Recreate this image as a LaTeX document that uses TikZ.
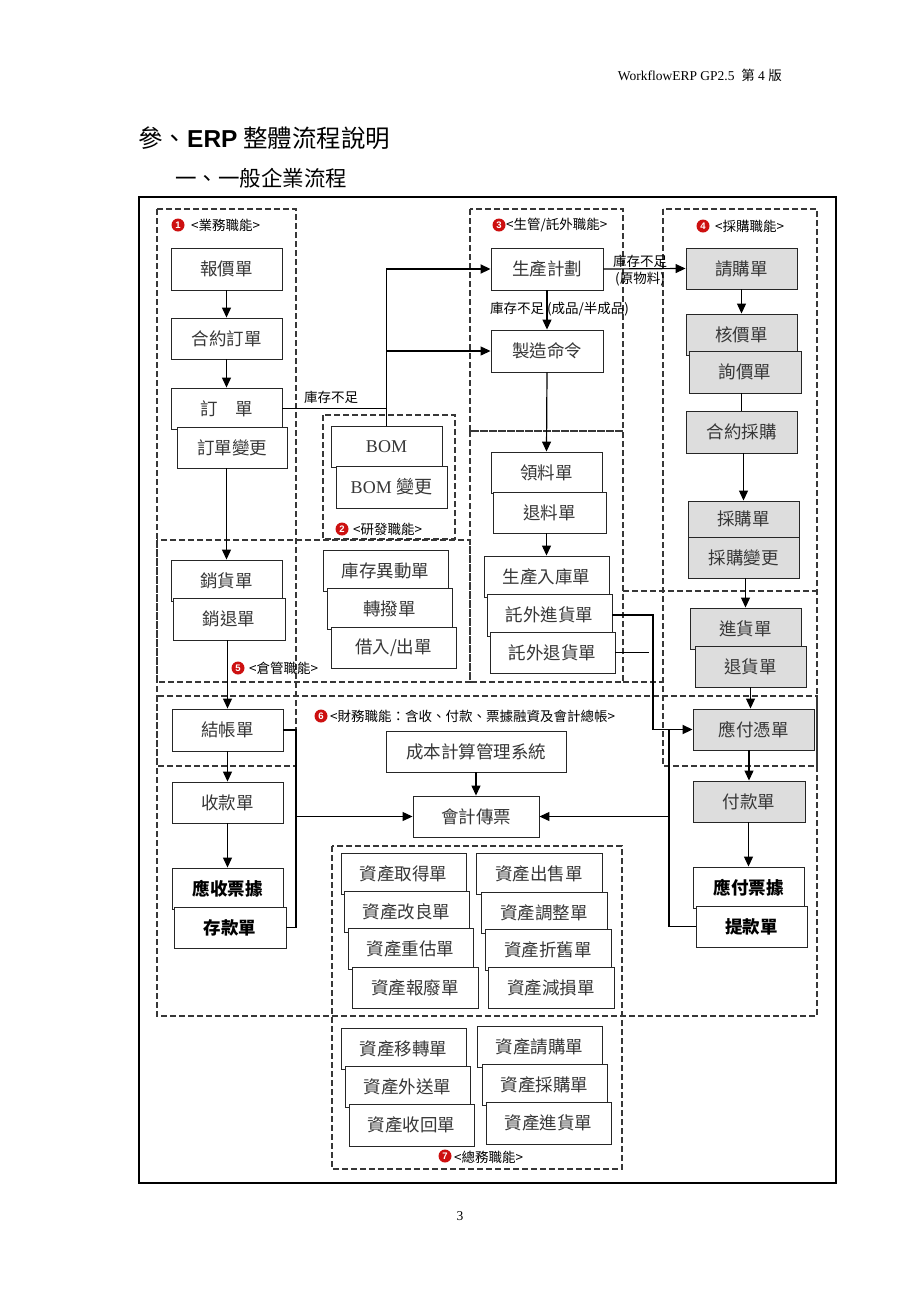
\documentclass[tikz,border=0pt]{standalone}
\usepackage{fontspec}
\setmainfont{Liberation Serif}
\newfontfamily\cjk{Noto Sans CJK TC}
\newfontfamily\arialf{Liberation Sans}
\usetikzlibrary{arrows.meta}
\definecolor{boxgray}{RGB}{221,221,221}
\definecolor{dashc}{RGB}{55,55,55}
\definecolor{txtc}{RGB}{55,55,55}
\definecolor{numred}{RGB}{205,16,16}
\begin{document}
\begin{tikzpicture}[x=1pt,y=-1pt,
 box/.style={draw=black!85, line width=0.9pt, fill=white, inner sep=0pt, text=txtc, font=\cjk\fontsize{17.5}{20}\selectfont},
 gbox/.style={box, fill=boxgray},
 bbox/.style={box, text=black, font=\cjk\bfseries\fontsize{17.5}{20}\selectfont},
 region/.style={draw=dashc, line width=1.2pt, dash pattern=on 6pt off 3pt},
 conn/.style={draw=black, line width=1.2pt},
 arr/.style={conn, -{Triangle[length=10pt,width=9pt]}},
 tarr/.style={arr, line width=1.8pt},
 lbl/.style={inner sep=0pt, font=\cjk\fontsize{13.5}{15}\selectfont, text=black},
 numc/.style={circle, fill=numred, text=white, inner sep=0pt, minimum size=13pt, font=\arialf\bfseries\fontsize{9.5}{9.5}\selectfont},
]
\useasboundingbox[fill=white] (0,0) rectangle (920,1302);

% header / titles
\node[anchor=base east, inner sep=0pt, font=\fontsize{13.5}{16}\selectfont] (hdr) at (782,80) {WorkflowERP GP2.5\ \ {\cjk 第} 4 {\cjk 版}};
\node[anchor=base west, inner sep=0pt, font=\cjk\fontsize{24.5}{28}\selectfont] (title) at (138,147) {參、{\arialf\bfseries ERP} 整體流程說明};
\node[anchor=base west, inner sep=0pt, font=\cjk\fontsize{21.5}{24}\selectfont] (sub1) at (175,186) {一、一般企業流程};
\node[inner sep=0pt, font=\fontsize{13.5}{16}\selectfont] (pg) at (460,1216) {3};

% outer frame
\draw[line width=1.2pt] (139,197) rectangle (836,1183);

% dashed regions
\draw[region] (157,209) rectangle (296,766);
\draw[region] (470,209) rectangle (623,431);
\draw[region] (470,431) rectangle (623,682);
\draw[region] (663,209) rectangle (817,766);
\draw[region] (323,415) rectangle (455,539);
\draw[region] (157,540) rectangle (470,682);
\draw[region] (157,696) rectangle (817,1016);
\draw[region] (332,846) rectangle (622,1169);
\draw[region] (623,591) -- (817,591);
\draw[region] (623,682) -- (663,682);

% region labels
\node[numc] (n1) at (178,225) {1};
\node[lbl, anchor=west] (l1) at (191,225) {<業務職能>};
\node[numc] (n3) at (499,225) {3};
\node[lbl, anchor=west] (l3) at (506,225) {<生管/託外職能>};
\node[numc] (n4) at (703,226) {4};
\node[lbl, anchor=west] (l4) at (715,226) {<採購職能>};
\node[numc] (n2) at (342,529) {2};
\node[lbl, anchor=west] (l2) at (353,529) {<研發職能>};
\node[numc] (n5) at (238,668) {5};
\node[lbl, anchor=west] (l5) at (249,668) {<倉管職能>};
\node[numc] (n6) at (321,716) {6};
\node[lbl, anchor=west] (l6) at (330,716) {<財務職能：含收、付款、票據融資及會計總帳>};
\node[numc] (n7) at (445,1156) {7};
\node[lbl, anchor=west] (l7) at (454,1157) {<總務職能>};

% sales column
\node[box, minimum width=111pt, minimum height=42pt] (q) at (226.5,269) {報價單};
\node[box, minimum width=111pt, minimum height=41pt] (co) at (226.5,338.5) {合約訂單};
\node[box, minimum width=111pt, minimum height=41pt] (ord) at (226.5,408.5) {訂　單};
\node[box, minimum width=110pt, minimum height=41pt] (ordc) at (232,447.5) {訂單變更};
\node[box, minimum width=111pt, minimum height=41pt] (sale) at (226.5,580.5) {銷貨單};
\node[box, minimum width=112pt, minimum height=42pt] (sret) at (229,619) {銷退單};
\node[box, minimum width=111pt, minimum height=42pt] (close) at (227.5,730) {結帳單};
\node[box, minimum width=111pt, minimum height=41pt] (rec) at (227.5,802.5) {收款單};
\node[bbox, minimum width=111pt, minimum height=41pt] (nr) at (227.5,888.5) {應收票據};
\node[bbox, minimum width=112pt, minimum height=41pt] (dep) at (230,927.5) {存款單};

% R&D
\node[box, font=\fontsize{18}{20}\selectfont, minimum width=111pt, minimum height=41pt] (bom) at (386.5,446.5) {BOM};
\node[box, font=\fontsize{18}{20}\selectfont, minimum width=111pt, minimum height=42pt] (bomc) at (391.5,487) {BOM {\cjk 變更}};

% warehouse
\node[box, minimum width=125pt, minimum height=41pt] (inv) at (385.5,570.5) {庫存異動單};
\node[box, minimum width=125pt, minimum height=41pt] (tr) at (389.5,608.5) {轉撥單};
\node[box, minimum width=125pt, minimum height=41pt] (bor) at (393.5,647.5) {借入/出單};

% production
\node[box, minimum width=112pt, minimum height=42pt] (plan) at (547,269) {生產計劃};
\node[box, minimum width=112pt, minimum height=42pt] (mo) at (547,351) {製造命令};
\node[box, minimum width=111pt, minimum height=41pt] (pick) at (546.5,472.5) {領料單};
\node[box, minimum width=113pt, minimum height=41pt] (pret) at (549.5,512.5) {退料單};
\node[box, minimum width=125pt, minimum height=41pt] (fin) at (546.5,576.5) {生產入庫單};
\node[box, minimum width=125pt, minimum height=42pt] (sub) at (549.5,615) {託外進貨單};
\node[box, minimum width=125pt, minimum height=41pt] (subr) at (552.5,652.5) {託外退貨單};

% purchasing
\node[gbox, minimum width=111pt, minimum height=41pt] (pr) at (741.5,268.5) {請購單};
\node[gbox, minimum width=111pt, minimum height=41pt] (pc) at (741.5,334.5) {核價單};
\node[gbox, minimum width=112pt, minimum height=42pt] (inq) at (745,372) {詢價單};
\node[gbox, minimum width=111pt, minimum height=42pt] (cp) at (741.5,432) {合約採購};
\node[gbox, minimum width=111pt, minimum height=41pt, text depth=6pt] (po) at (743.5,521.5) {採購單};
\node[gbox, minimum width=111pt, minimum height=41pt] (poc) at (743.5,557.5) {採購變更};
\node[gbox, minimum width=111pt, minimum height=41pt] (gr) at (745.5,628.5) {進貨單};
\node[gbox, minimum width=111pt, minimum height=41pt] (grr) at (750.5,666.5) {退貨單};
\node[gbox, minimum width=121pt, minimum height=41pt] (ap) at (753.5,729.5) {應付憑單};
\node[gbox, minimum width=112pt, minimum height=41pt] (pay) at (749,801.5) {付款單};
\node[bbox, minimum width=111pt, minimum height=41pt] (np) at (748.5,887.5) {應付票據};
\node[bbox, minimum width=111pt, minimum height=41pt] (wd) at (751.5,926.5) {提款單};

% finance
\node[box, minimum width=180pt, minimum height=41pt] (cost) at (476,751.5) {成本計算管理系統};
\node[box, minimum width=126pt, minimum height=41pt] (vou) at (476,816.5) {會計傳票};

% assets
\node[box, minimum width=125pt, minimum height=41pt] (a1) at (403.5,873.5) {資產取得單};
\node[box, minimum width=125pt, minimum height=41pt] (a2) at (406.5,911.5) {資產改良單};
\node[box, minimum width=125pt, minimum height=41pt] (a3) at (410.5,948.5) {資產重估單};
\node[box, minimum width=126pt, minimum height=41pt] (a4) at (415,987.5) {資產報廢單};
\node[box, minimum width=126pt, minimum height=41pt] (b1) at (539,873.5) {資產出售單};
\node[box, minimum width=126pt, minimum height=41pt] (b2) at (544,912.5) {資產調整單};
\node[box, minimum width=126pt, minimum height=41pt] (b3) at (548,949.5) {資產折舊單};
\node[box, minimum width=126pt, minimum height=41pt] (b4) at (551,987.5) {資產減損單};
\node[box, minimum width=125pt, minimum height=41pt] (c1) at (403.5,1048.5) {資產移轉單};
\node[box, minimum width=125pt, minimum height=41pt] (c2) at (407.5,1086.5) {資產外送單};
\node[box, minimum width=125pt, minimum height=42pt] (c3) at (411.5,1125) {資產收回單};
\node[box, minimum width=125pt, minimum height=41pt] (d1) at (539.5,1046.5) {資產請購單};
\node[box, minimum width=125pt, minimum height=41pt] (d2) at (544.5,1084.5) {資產採購單};
\node[box, minimum width=125pt, minimum height=42pt] (d3) at (548.5,1123) {資產進貨單};

% connectors: sales
\draw[arr] (q.south) -- (co.north);
\draw[arr] (co.south) -- (ord.north);
\draw[arr] (sale.north |- ordc.south) -- (sale.north);
\draw[arr] (close.north |- sret.south) -- (close.north);
\draw[arr] (close.south) -- (rec.north);
\draw[arr] (rec.south) -- (nr.north);
\coordinate (jL) at (296,0);
\draw[conn] (close.east) -- (close.east -| jL) -- (jL |- dep.east) -- (dep.east);
\draw[arr] (jL |- vou.west) -- (vou.west);
\draw[arr] (cost.south) -- (vou.north);

% connectors: order to production
\draw[conn, line width=1.6pt] (ord.east) -- (ord.east -| bom.north);
\draw[tarr] (bom.north) -- (bom.north |- plan.west) -- (plan.west);
\draw[arr] (bom.north |- mo.west) -- (mo.west);
\node[lbl] (t1) at (331,397) {庫存不足};

% production
\draw[arr] (plan.south) -- (mo.north);
\node[lbl] (t2) at (559.5,309) {庫存不足 (成品/半成品)};
\draw[arr] (plan.east) -- (pr.west);
\node[lbl] (t3) at (640,261) {庫存不足};
\node[lbl] (t4) at (640,279) {(原物料)};
\draw[arr] (mo.south) -- (pick.north);
\draw[arr] (fin.north |- pret.south) -- (fin.north);

% purchasing
\draw[arr] (pr.south) -- (pc.north);
\draw[conn] (cp.north |- inq.south) -- (cp.north);
\draw[arr] (po.north |- cp.south) -- (po.north);
\draw[arr] (gr.north |- poc.south) -- (gr.north);
\draw[arr] (grr.south) -- (grr.south |- ap.north);
\draw[arr] (pay.north |- ap.south) -- (pay.north);
\draw[arr] (np.north |- pay.south) -- (np.north);

% outsourcing to payable
\coordinate (jR) at (653,0);
\draw[tarr] (sub.east) -- (sub.east -| jR) -- (jR |- ap.west) -- (ap.west);
\coordinate (jS) at (649,0);
\draw[conn] (subr.east) -- (subr.east -| jS);
\coordinate (jV) at (669,0);
\draw[conn] (jV |- ap.west) -- (jV |- wd.west) -- (wd.west);
\draw[arr] (jV |- vou.east) -- (vou.east);
\end{tikzpicture}
\end{document}
